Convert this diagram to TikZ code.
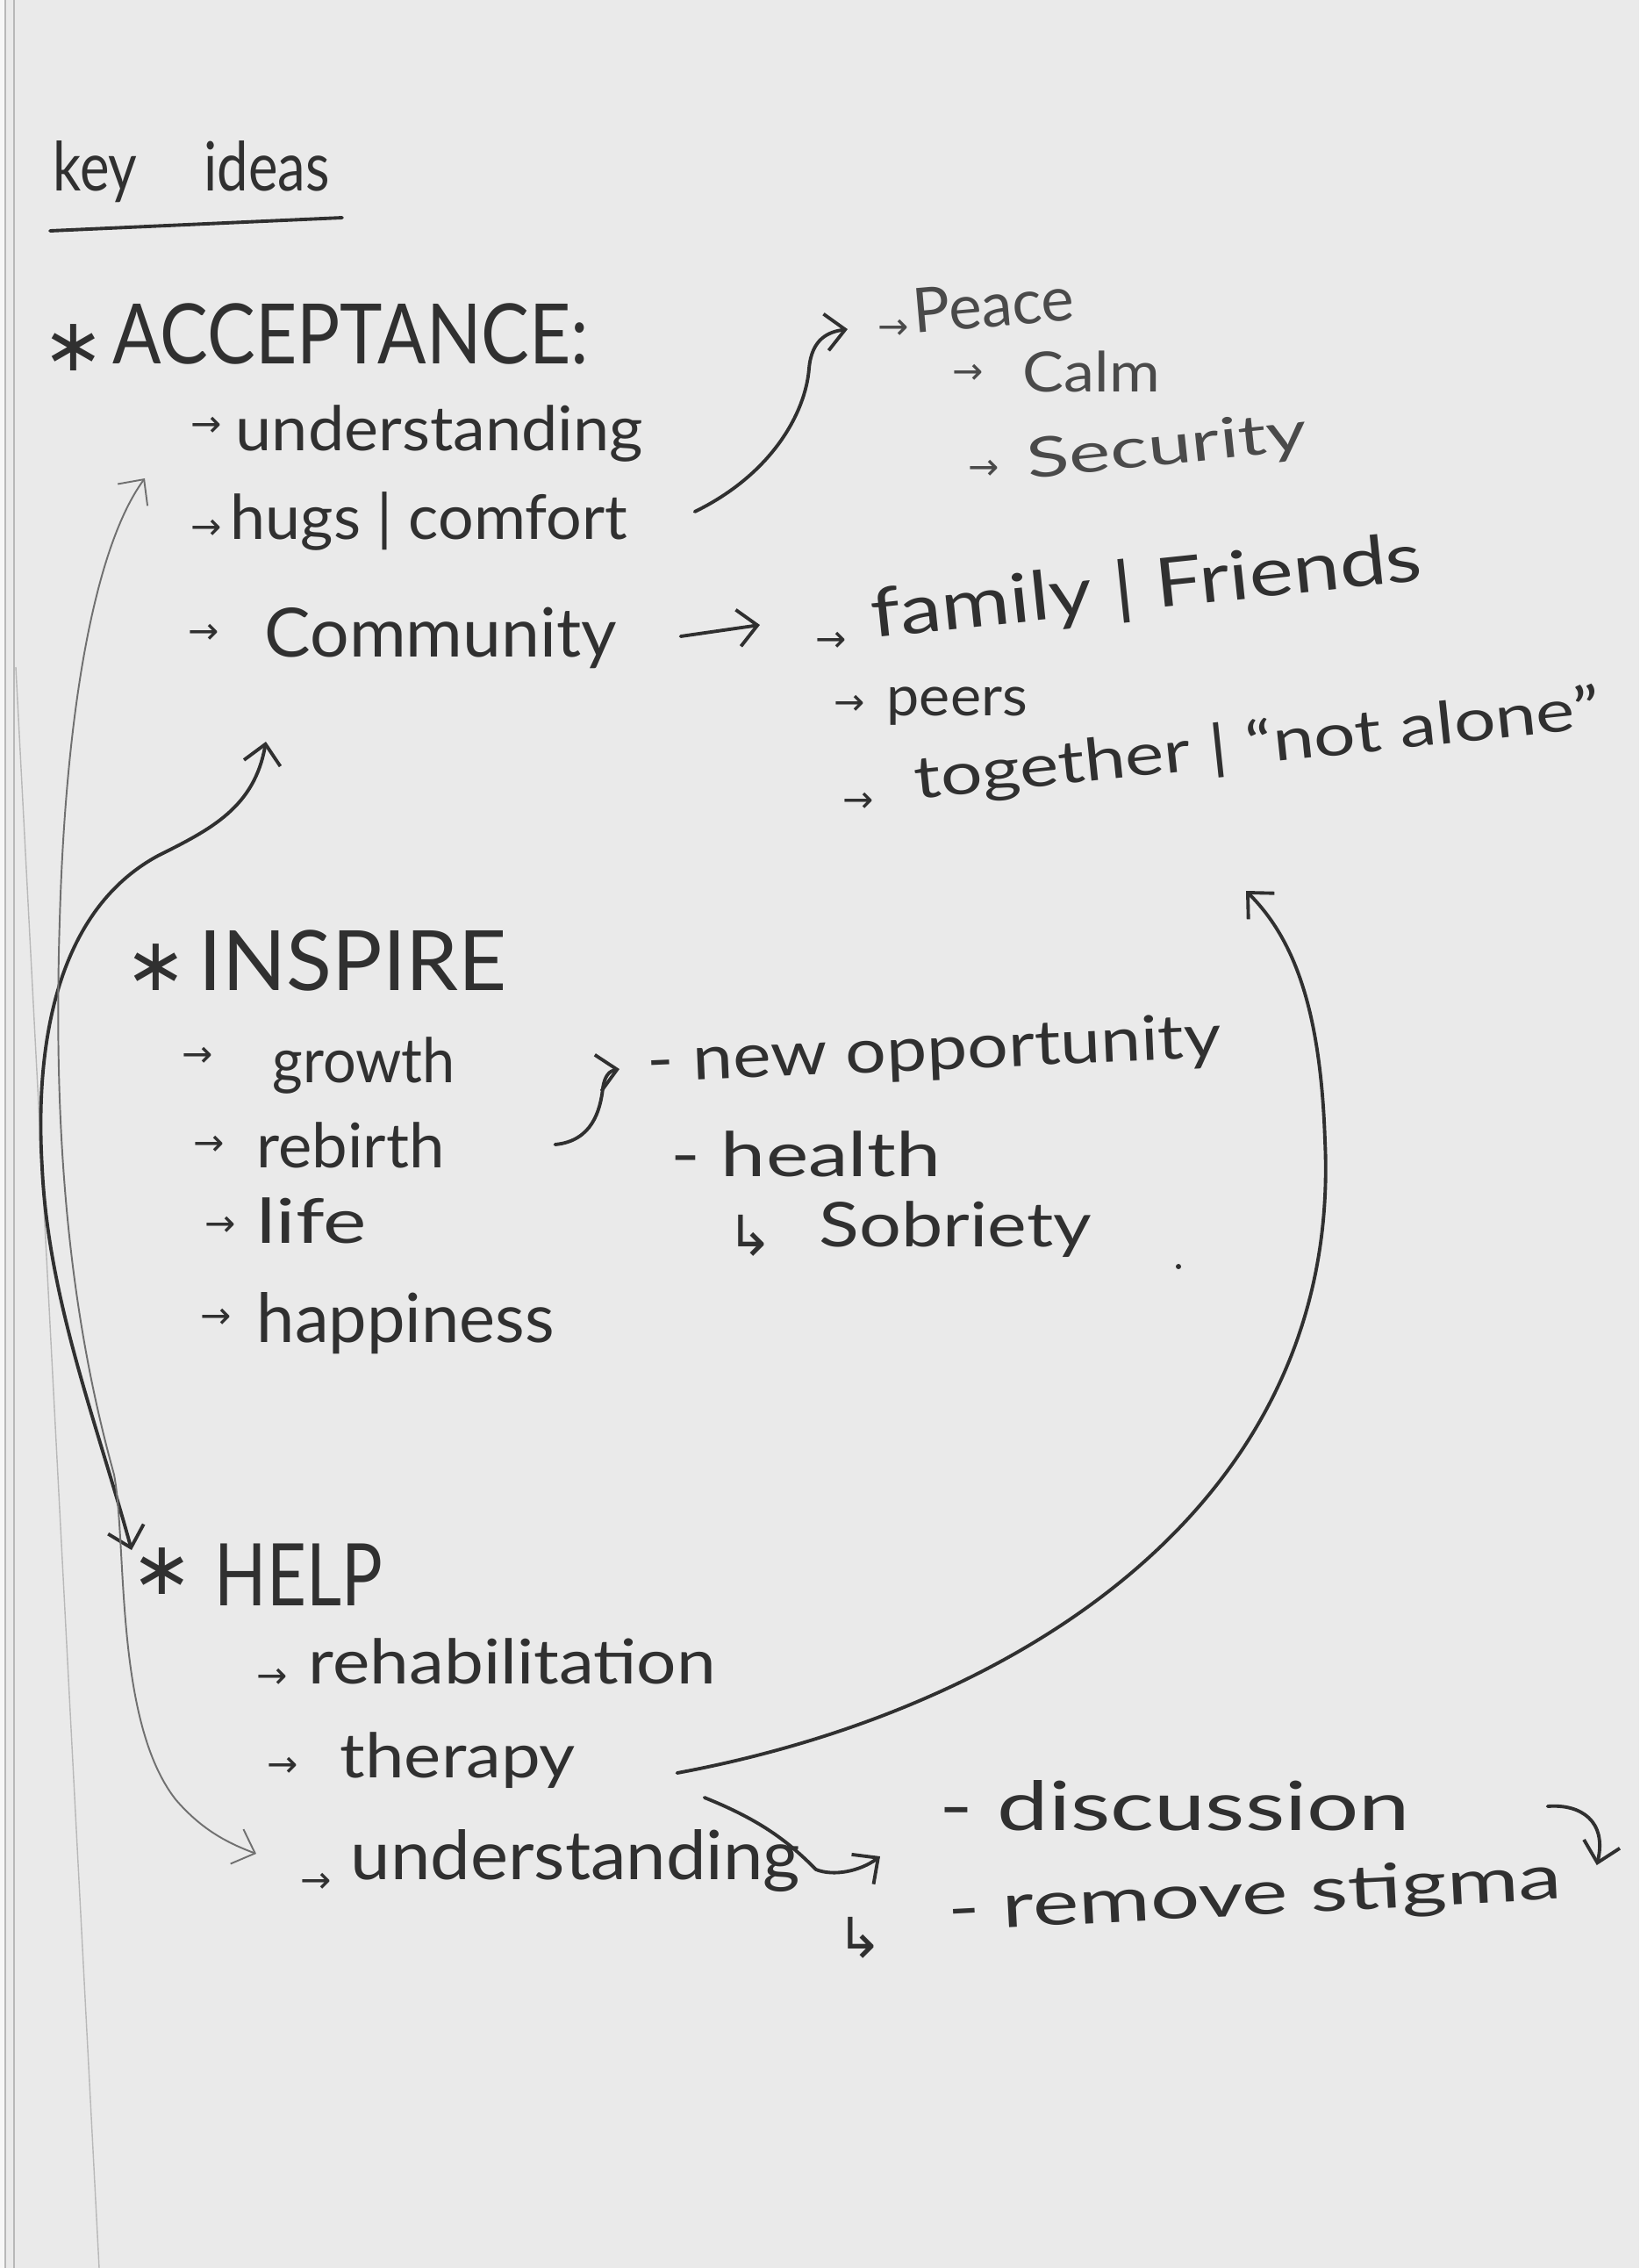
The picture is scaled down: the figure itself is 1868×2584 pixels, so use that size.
\documentclass[tikz,border=0pt]{standalone}
\usepackage{fontspec}
\setmainfont{Lato}
\newfontfamily\symf{DejaVu Sans}
\usetikzlibrary{arrows.meta,calc}
\definecolor{paper}{HTML}{EAEAEA}
\definecolor{ink}{HTML}{303030}
\definecolor{inklight}{HTML}{4A4A4A}
\definecolor{pencil}{HTML}{707070}
\definecolor{margin}{HTML}{B8B8B8}
\newcommand{\hwfit}[2]{\resizebox{#1}{\height}{#2}}
\newcommand{\fs}[1]{\fontsize{#1pt}{#1pt}\selectfont}
\begin{document}
\begin{tikzpicture}[x=0.01cm,y=-0.01cm,
  txt/.style={anchor=base west, inner sep=0pt, text=ink, font={\fs{20}}},
  txtl/.style={txt, text=inklight},
  bul/.style={anchor=base west, inner sep=0pt, text=ink, font={\symf\fs{12}}},
  bull/.style={bul, text=inklight},
  hook/.style={anchor=base west, inner sep=0pt, text=ink, font={\symf\fs{18}}},
  starmark/.style={anchor=center, inner sep=0pt, text=ink, font={\symf\fs{24}}},
  pen/.style={draw=ink, line width=1.1pt, line cap=round, line join=round},
  thinpen/.style={draw=pencil, line width=0.55pt, line cap=round, line join=round},
  tip/.style={-{Straight Barb[length=2.2mm,width=4.2mm]}},
  tips/.style={{Straight Barb[length=2.2mm,width=4.2mm]}-{Straight Barb[length=2.2mm,width=4.2mm]}},
]
\fill[paper] (0,0) rectangle (1868,2584);
\useasboundingbox (0,0) rectangle (1868,2584);
\fill[white!60!paper] (0,0) rectangle (5,2584);
\draw[margin, line width=0.5pt] (6,0) -- (6,2584);
\draw[margin, line width=0.4pt] (16,0) -- (16,2584);
\draw[margin, line width=0.4pt] (18,760) -- (113,2584);

% title
\node[txt, font={\fs{22}}] (key) at (60,217) {\hwfit{3.15cm}{key\hspace{1.2em}ideas}};
\draw[pen] ($(key.base west)+(-3,46)$) -- ($(key.base west)+(330,31)$);

% ACCEPTANCE
\node[starmark] (s1) at (84,396) {∗};
\node[txt, font={\fs{27}}] (acc) at (128,414) {\hwfit{5.42cm}{ACCEPTANCE:}};
\node[bul] (b1) at (217,497) {→};
\node[txt] (und1) at (268,513) {\hwfit{4.64cm}{understanding}};
\node[bul] (b2) at (217,614) {→};
\node[txt] (hugs) at (262,614) {\hwfit{4.52cm}{hugs | comfort}};
\node[bul] (b3) at (214,733) {→};
\node[txt, font={\fs{22}}] (comm) at (301,748) {\hwfit{4.01cm}{Community}};

% peace group
\node[bull] (b4) at (1000,386) {→};
\node[txtl, rotate=5] (peace) at (1042,380) {\hwfit{1.84cm}{Peace}};
\node[bull] (b5) at (1085,437) {→};
\node[txtl, font={\fs{18}}] (calm) at (1165,446) {\hwfit{1.56cm}{Calm}};
\node[bull] (b6) at (1103,546) {→};
\node[txtl, font={\fs{18}}, rotate=6] (sec) at (1172,546) {\hwfit{3.2cm}{Security}};

% community group
\node[bul] (b7) at (929,742) {→};
\node[txt, font={\fs{22}}, rotate=6] (fam) at (995,727) {\hwfit{6.3cm}{family | Friends}};
\node[bul] (b8) at (950,814) {→};
\node[txt, font={\fs{18}}] (peers) at (1010,815) {\hwfit{1.6cm}{peers}};
\node[bul] (b9) at (960,925) {→};
\node[txt, font={\fs{19}}, rotate=6] (tog) at (1044,911) {\hwfit{7.85cm}{together | “not alone”}};

% INSPIRE
\node[starmark] (s2) at (178,1102) {∗};
\node[txt, font={\fs{27}}] (insp) at (226,1128) {\hwfit{3.51cm}{INSPIRE}};
\node[bul] (b10) at (207,1215) {→};
\node[txt] (growth) at (310,1233) {\hwfit{2.08cm}{growth}};
\node[bul] (b11) at (220,1316) {→};
\node[txt] (rebirth) at (292,1330) {\hwfit{2.14cm}{rebirth}};
\node[bul] (b12) at (233,1408) {→};
\node[txt] (life) at (292,1416) {\hwfit{1.25cm}{life}};
\node[bul] (b13) at (228,1513) {→};
\node[txt, font={\fs{22}}] (happy) at (292,1529) {\hwfit{3.39cm}{happiness}};

\node[txt, rotate=2.5] (newopp) at (738,1233) {\hwfit{6.54cm}{- new opportunity}};
\node[txt] (health) at (764,1340) {\hwfit{3.07cm}{- health}};
\node[hook] (b14) at (828,1430) {↳};
\node[txt] (sobr) at (933,1420) {\hwfit{3.1cm}{Sobriety}};
\fill[ink] (1343,1443) circle (3);

% HELP
\node[starmark] (s3) at (185,1790) {∗};
\node[txt, font={\fs{28}}] (help) at (244,1829) {\hwfit{1.91cm}{HELP}};
\node[bul] (b15) at (292,1923) {→};
\node[txt] (rehab) at (351,1918) {\hwfit{4.64cm}{rehabilitation}};
\node[bul] (b16) at (304,2024) {→};
\node[txt] (ther) at (387,2025) {\hwfit{2.68cm}{therapy}};
\node[bul] (b17) at (342,2156) {→};
\node[txt, font={\fs{22}}] (und2) at (399,2141) {\hwfit{5.12cm}{understanding}};

\node[txt, font={\fs{22}}] (disc) at (1070,2085) {\hwfit{5.36cm}{- discussion}};
\node[hook] (b18) at (953,2230) {↳};
\node[txt, rotate=3] (stig) at (1081,2200) {\hwfit{7.0cm}{- remove stigma}};

% connectors
\draw[pen, tip] ($(hugs.base east)+(76,-31)$) .. controls (880,540) and (918,470) .. (922,420)
   .. controls (925,385) and (945,378) .. ($(b4.base west)+(-34,-11)$);
\draw[pen, tip] ($(comm.base east)+(72,-23)$) -- ($(b7.base west)+(-63,-30)$);
\draw[pen, tip] ($(rebirth.base east)+(125,-26)$) .. controls (675,1300) and (684,1265) .. (687,1240)
   .. controls (689,1225) and (695,1220) .. ($(newopp.base west)+(-32,-15)$);
\draw[pen, tip] ($(ther.base east)+(115,-5)$) .. controls (1150,1950) and (1530,1720) .. (1510,1300)
   .. controls (1505,1150) and (1475,1070) .. ($(tog.base west)+(376,104)$);
\draw[pen, tip] ($(und2.base east)+(-110,-93)$) .. controls (870,2075) and (900,2100) .. (930,2130)
   .. controls (950,2138) and (980,2132) .. ($(disc.base west)+(-67,30)$);
\draw[pen, tip] ($(disc.base east)+(156,-27)$) .. controls ($(disc.base east)+(194,-30)$) and ($(disc.base east)+(224,-10)$) .. ($(disc.base east)+(212,40)$);
\draw[pen, tips] ($(comm.base west)+(2,97)$) .. controls (290,920) and (240,945) .. (180,975)
   .. controls (60,1040) and (40,1200) .. (48,1330)
   .. controls (55,1480) and (110,1620) .. ($(help.base west)+(-94,-63)$);
\draw[thinpen, tips] ($(b2.base west)+(-52,-69)$) .. controls (110,620) and (75,800) .. (68,1050)
   .. controls (60,1300) and (80,1500) .. (130,1680)
   .. controls (145,1760) and (130,1960) .. (200,2050)
   .. controls (230,2085) and (260,2100) .. ($(b17.base west)+(-50,-44)$);
\end{tikzpicture}
\end{document}
